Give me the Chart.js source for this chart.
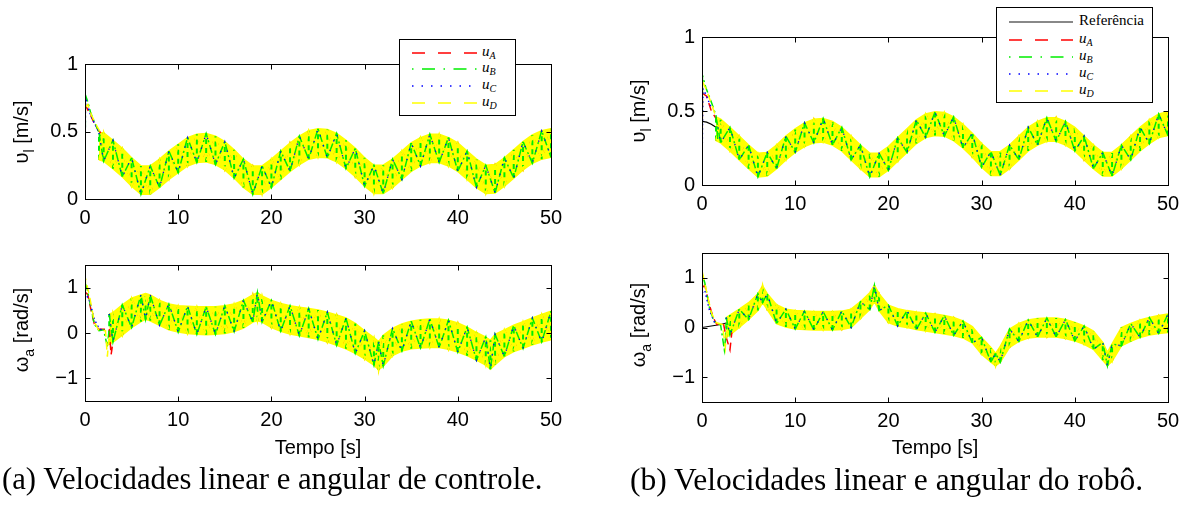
<!DOCTYPE html>
<html><head><meta charset="utf-8">
<script src="https://cdn.jsdelivr.net/npm/chart.js@4.4.1/dist/chart.umd.min.js"></script>
<style>
body{margin:0;width:1190px;height:508px;position:relative;background:#fff;overflow:hidden;font-family:"Liberation Sans",Arial,sans-serif;color:#000;}
canvas{position:absolute;left:0;top:0;}
.ylab{position:absolute;font-size:20px;line-height:20px;white-space:nowrap;transform:translate(-50%,-50%) rotate(-90deg);}
.ylab sub{font-size:14px;vertical-align:-6px;line-height:0;}
.xlab{position:absolute;font-size:20px;line-height:20px;white-space:nowrap;transform:translateX(-50%);}
.legend{position:absolute;border:1px solid #000;background:#fff;box-sizing:border-box;z-index:5;}
.legend svg{position:absolute;}
.legend .lt{position:absolute;font-family:"Liberation Serif",serif;font-size:15px;line-height:15px;white-space:nowrap;}
.legend .lt sub{font-size:10px;vertical-align:-3px;line-height:0;}
.cap{position:absolute;font-family:"Liberation Serif",serif;white-space:nowrap;line-height:1;}
</style></head>
<body>
<script>
// ---------------- data ----------------
const timeTicks = [0, 10, 20, 30, 40, 50];
const vTicks = [0, 0.5, 1];
const wTicks = [-1, 0, 1];

// time samples of the oscillating band (s)
const timeV = [1.5,2,3,4,5,6,7,8,9,10,11,12,13,14,15,16,17,18,19,20,21,22,23,24,25,26,27,28,29,30,31,32,33,34,35,36,37,38,39,40,41,42,43,44,45,46,47,48,49,50];
const timeW = [2.6,3,4,5,6,6.5,7,8,9,10,11,12,13,14,15,16,17,18,18.5,19,20,21,22,23,24,25,26,27,28,29,30,31,31.5,32,33,34,35,36,37,38,39,40,41,42,43,43.5,44,45,46,47,48,49,50];

// (a) control linear velocity: band upper / lower edges
const vUpperA = [0.49,0.49,0.435,0.375,0.305,0.245,0.245,0.295,0.355,0.405,0.455,0.48,0.485,0.465,0.425,0.365,0.295,0.245,0.245,0.295,0.355,0.415,0.465,0.505,0.52,0.515,0.485,0.435,0.375,0.305,0.25,0.25,0.295,0.355,0.415,0.455,0.48,0.48,0.455,0.415,0.355,0.295,0.25,0.255,0.305,0.365,0.425,0.475,0.505,0.52];
const vLowerA = [0.29,0.28,0.225,0.165,0.095,0.035,0.035,0.085,0.145,0.195,0.245,0.27,0.275,0.255,0.215,0.155,0.085,0.035,0.035,0.085,0.145,0.205,0.255,0.295,0.31,0.305,0.275,0.225,0.165,0.095,0.04,0.04,0.085,0.145,0.205,0.245,0.27,0.27,0.245,0.205,0.145,0.085,0.04,0.045,0.095,0.155,0.215,0.265,0.295,0.31];
// (a) control angular velocity
const wUpperA = [0.42,0.45,0.62,0.77,0.84,0.87,0.84,0.72,0.64,0.60,0.59,0.58,0.58,0.58,0.60,0.64,0.72,0.84,0.89,0.82,0.72,0.65,0.60,0.57,0.54,0.51,0.46,0.40,0.33,0.21,0.05,-0.10,-0.19,-0.05,0.10,0.20,0.26,0.29,0.31,0.31,0.28,0.22,0.13,0.01,-0.09,-0.16,-0.03,0.07,0.17,0.25,0.33,0.41,0.48];
const wLowerA = [-0.25,-0.20,-0.05,0.12,0.25,0.30,0.27,0.17,0.07,0.02,-0.01,-0.03,-0.04,-0.03,-0.01,0.03,0.11,0.24,0.27,0.24,0.12,0.04,-0.02,-0.06,-0.10,-0.14,-0.20,-0.27,-0.35,-0.45,-0.57,-0.71,-0.81,-0.73,-0.50,-0.40,-0.35,-0.33,-0.32,-0.32,-0.36,-0.42,-0.50,-0.60,-0.71,-0.80,-0.70,-0.52,-0.41,-0.34,-0.26,-0.20,-0.15];
// (b) robot linear velocity
const vUpperB = [0.46,0.445,0.39,0.33,0.27,0.215,0.22,0.27,0.33,0.38,0.42,0.445,0.45,0.43,0.39,0.33,0.27,0.215,0.215,0.26,0.32,0.38,0.44,0.48,0.495,0.49,0.46,0.41,0.35,0.28,0.225,0.225,0.27,0.33,0.39,0.43,0.455,0.455,0.43,0.39,0.33,0.27,0.22,0.22,0.27,0.33,0.39,0.44,0.48,0.495];
const vLowerB = [0.30,0.285,0.23,0.17,0.11,0.055,0.06,0.11,0.17,0.22,0.26,0.285,0.29,0.27,0.23,0.17,0.11,0.055,0.055,0.10,0.16,0.22,0.28,0.32,0.335,0.33,0.30,0.25,0.19,0.12,0.065,0.065,0.11,0.17,0.23,0.27,0.295,0.295,0.27,0.23,0.17,0.11,0.06,0.06,0.11,0.17,0.23,0.28,0.32,0.335];
// (b) robot angular velocity
const wUpperB = [0.20,0.25,0.37,0.50,0.68,0.84,0.68,0.46,0.37,0.34,0.33,0.32,0.32,0.32,0.33,0.37,0.52,0.70,0.85,0.68,0.45,0.38,0.34,0.31,0.29,0.27,0.24,0.20,0.13,0.02,-0.20,-0.40,-0.52,-0.38,-0.03,0.08,0.15,0.18,0.19,0.19,0.16,0.10,0.03,-0.07,-0.30,-0.50,-0.33,0.00,0.08,0.15,0.20,0.24,0.27];
const wLowerB = [-0.20,-0.15,0.00,0.16,0.34,0.50,0.36,0.08,0.01,-0.03,-0.04,-0.05,-0.05,-0.05,-0.04,0.00,0.18,0.36,0.52,0.34,0.10,0.03,0.00,-0.04,-0.07,-0.10,-0.13,-0.16,-0.21,-0.31,-0.54,-0.70,-0.77,-0.70,-0.40,-0.28,-0.21,-0.19,-0.19,-0.19,-0.22,-0.27,-0.34,-0.44,-0.66,-0.77,-0.68,-0.37,-0.28,-0.20,-0.15,-0.12,-0.10];

// initial transients, [time, value]
const vStartA_uA = [[0,0.02],[0.02,0.70],[0.3,0.66],[0.6,0.62],[1,0.56],[1.4,0.51],[1.7,0.49]];
const vStartA_uB = [[0,0.05],[0.05,0.77],[0.3,0.72],[0.6,0.64],[1,0.57],[1.4,0.51],[1.7,0.45]];
const vStartA_uC = [[0,0.1],[0.05,0.75],[0.5,0.64],[1,0.56],[1.5,0.50]];
const vStartA_uD = [[0,0.0],[0.03,0.68],[0.3,0.70],[0.7,0.62],[1.2,0.55],[1.6,0.50]];
const wStartA_uA = [[0,0.9],[0.3,0.85],[0.7,0.45],[1,0.2],[1.5,0.08],[2.2,0.08],[2.6,0.1],[2.8,-0.48],[3.0,-0.2]];
const wStartA_uB = [[0,1.1],[0.2,1.0],[0.6,0.6],[1,0.2],[1.5,0.05],[2.0,0.07],[2.4,-0.3],[2.6,0.1]];
const wStartA_uC = [[0,0.9],[0.5,0.7],[1,0.3],[1.5,0.1],[2,0.05]];
const wStartA_uD = [[0,0.2],[0.05,1.2],[0.5,0.8],[1,0.25],[1.5,0.05],[2.2,0.05],[2.4,-0.52],[2.6,0.0]];
const vRefB = [[0,0.43],[0.5,0.425],[1,0.41],[1.5,0.39],[2,0.37]];
const vStartB_uA = [[0,0.0],[0.05,0.62],[0.5,0.60],[1,0.50],[1.5,0.45]];
const vStartB_uB = [[0,0.05],[0.05,0.74],[0.4,0.66],[1,0.56],[1.5,0.47],[1.7,0.30]];
const vStartB_uC = [[0,0.1],[0.1,0.65],[0.5,0.60],[1,0.52]];
const vStartB_uD = [[0,0.0],[0.05,0.70],[0.5,0.64],[1,0.55],[1.5,0.46]];
const wRefB = [[0,0],[1,0.03],[2,0.06],[2.8,0.1]];
const wStartB_uA = [[0,0.8],[0.3,0.85],[0.8,0.45],[1.2,0.2],[1.6,0.06],[2.3,0.08],[2.6,-0.2],[3.0,-0.45],[3.2,-0.1]];
const wStartB_uB = [[0,0.5],[0.05,1.05],[0.3,0.9],[0.8,0.4],[1.3,0.12],[2,0.05],[2.4,-0.45],[2.7,0.1]];
const wStartB_uC = [[0,0.7],[0.3,0.75],[0.8,0.35],[1.4,0.08]];
const wStartB_uD = [[0,0.3],[0.05,1.1],[0.4,0.8],[1,0.3],[1.5,0.1],[2.2,0.06],[2.5,-0.4],[2.7,0.05]];

// ---------------- drawing ----------------
const COL = {A:'#ff0000', B:'#00ee00', C:'#0000ff', D:'#ffff00', R:'#000000'};
const FONT = {family:'"Liberation Sans", Arial, sans-serif', size:20};
const YW = 60, XH = 40;

const framePlugin = {
  id:'frame',
  afterDraw(chart){
    const {ctx, chartArea:a, scales} = chart;
    const L = Math.round(a.left)+0.5, R = Math.round(a.right)+0.5, T = Math.round(a.top)+0.5, B = Math.round(a.bottom)+0.5;
    ctx.save();
    ctx.strokeStyle = '#000'; ctx.lineWidth = 1;
    ctx.strokeRect(L, T, R-L, B-T);
    ctx.beginPath();
    scales.x.ticks.forEach(t=>{
      const p = Math.round(scales.x.getPixelForValue(t.value))+0.5;
      ctx.moveTo(p,B); ctx.lineTo(p,B-5); ctx.moveTo(p,T); ctx.lineTo(p,T+5);
    });
    scales.y.ticks.forEach(t=>{
      const p = Math.round(scales.y.getPixelForValue(t.value))+0.5;
      ctx.moveTo(L,p); ctx.lineTo(L+5,p); ctx.moveTo(R,p); ctx.lineTo(R-5,p);
    });
    ctx.stroke();
    ctx.restore();
  }
};

function pts(xs, ys){ return xs.map((x,i)=>({x, y:ys[i]})); }
function pairs(arr){ return arr.map(p=>({x:p[0], y:p[1]})); }

function makeChart(box, yTicks, yMin, yMax, t, up, lo, starts, ref){
  const cv = document.createElement('canvas');
  cv.width = 1190; cv.height = 508;
  document.body.appendChild(cv);
  const streaks = [];
  t.forEach((x,i)=>{ streaks.push({x, y:lo[i]}, {x, y:up[i]}, {x, y:null}); });
  const zigG = t.map((x,i)=>({x, y: i%2 ? lo[i] : up[i]}));
  const zigR = t.map((x,i)=>({x, y: i%2 ? up[i] : lo[i]}));
  const ds = [];
  const base = {pointRadius:0, tension:0, fill:false, spanGaps:false};
  ds.push({...base, data:pts(t,lo), borderColor:COL.D, borderWidth:1.5, order:30});
  ds.push({...base, data:pts(t,up), borderColor:COL.D, borderWidth:1.5, fill:'-1', backgroundColor:COL.D, order:29});
  ds.push({...base, data:zigR, borderColor:COL.A, borderWidth:1.3, borderDash:[3,11], order:9});
  ds.push({...base, data:streaks, borderColor:COL.B, borderWidth:2, borderDash:[5,4], order:8});
  ds.push({...base, data:zigR, borderColor:COL.D, borderWidth:1.8, borderDash:[9,5], borderDashOffset:4, order:7});
  ds.push({...base, data:zigG, borderColor:COL.B, borderWidth:1.5, borderDash:[8,3,2,3], order:6});
  ds.push({...base, data:zigG, borderColor:COL.C, borderWidth:1.3, borderDash:[1.3,9], order:5});
  if (ref) ds.push({...base, data:pairs(ref), borderColor:COL.R, borderWidth:1.2, order:40});
  const keys = ['A','B','C','D'];
  const dashes = [[8,5],[8,3,2,3],[1.5,3],[8,5]];
  starts.forEach((s,k)=>{
    ds.push({...base, data:pairs(s), borderColor:COL[keys[k]], borderWidth:1.5, borderDash:dashes[k], order:4-k});
  });
  return new Chart(cv, {
    type:'line',
    data:{datasets:ds},
    options:{
      responsive:false, animation:false, events:[],
      layout:{padding:{left:box.l-YW, top:box.t, right:1190-box.r, bottom:508-box.b-XH}},
      plugins:{legend:{display:false}, tooltip:{enabled:false}},
      scales:{
        x:{type:'linear', min:0, max:50,
           afterBuildTicks(s){ s.ticks = timeTicks.map(v=>({value:v})); },
           afterFit(s){ s.height = XH; },
           ticks:{font:FONT, color:'#000', padding:7, maxRotation:0, autoSkip:false},
           grid:{display:false, drawTicks:false}, border:{display:false}},
        y:{type:'linear', min:yMin, max:yMax,
           afterBuildTicks(s){ s.ticks = yTicks.map(v=>({value:v})); },
           afterFit(s){ s.width = YW; },
           ticks:{font:FONT, color:'#000', padding:7, callback:v=>String(v).replace('-','\u2212')},
           grid:{display:false, drawTicks:false}, border:{display:false}}
      }
    },
    plugins:[framePlugin]
  });
}

const boxAv = {l:85, r:551, t:64, b:199};
const boxAw = {l:85, r:551, t:265, b:401};
const boxBv = {l:702, r:1168, t:37, b:185};
const boxBw = {l:702, r:1168, t:253, b:402};

makeChart(boxAv, vTicks, 0, 1, timeV, vUpperA, vLowerA, [vStartA_uA,vStartA_uB,vStartA_uC,vStartA_uD], null);
makeChart(boxAw, wTicks, -1.5, 1.5, timeW, wUpperA, wLowerA, [wStartA_uA,wStartA_uB,wStartA_uC,wStartA_uD], null);
makeChart(boxBv, vTicks, 0, 1, timeV, vUpperB, vLowerB, [vStartB_uA,vStartB_uB,vStartB_uC,vStartB_uD], vRefB);
makeChart(boxBw, wTicks, -1.5, 1.5, timeW, wUpperB, wLowerB, [wStartB_uA,wStartB_uB,wStartB_uC,wStartB_uD], wRefB);

// ---------------- text ----------------
function addDiv(cls, html, style){
  const d = document.createElement('div'); d.className = cls; d.innerHTML = html;
  Object.assign(d.style, style); document.body.appendChild(d); return d;
}
addDiv('ylab', '\u03c5<sub>l</sub> [m/s]', {left:'21px', top:'132px'});
addDiv('ylab', '\u03c9<sub>a</sub> [rad/s]', {left:'21px', top:'330px'});
addDiv('ylab', '\u03c5<sub>l</sub> [m/s]', {left:'638px', top:'111px'});
addDiv('ylab', '\u03c9<sub>a</sub> [rad/s]', {left:'638px', top:'325px'});
addDiv('xlab', 'Tempo [s]', {left:'318px', top:'437px'});
addDiv('xlab', 'Tempo [s]', {left:'935px', top:'437px'});

// legends
const legendNames = ['A','B','C','D'];
const legendDash = {A:'13 13', B:'1.5 8.5 13 8.5', C:'1.5 8', D:'13 13', R:''};
function legend(box, rows, sx0, sx1, tx){
  const lg = addDiv('legend', '', {left:box.l+'px', top:box.t+'px', width:box.w+'px', height:box.h+'px'});
  rows.forEach(r=>{
    const svg = document.createElementNS('http://www.w3.org/2000/svg','svg');
    svg.setAttribute('width', sx1 - sx0 + 2); svg.setAttribute('height', 6);
    svg.style.left = (sx0-1)+'px'; svg.style.top = (r.y-3)+'px';
    const ln = document.createElementNS('http://www.w3.org/2000/svg','line');
    ln.setAttribute('x1',1); ln.setAttribute('x2', sx1-sx0+1); ln.setAttribute('y1',3); ln.setAttribute('y2',3);
    ln.setAttribute('stroke', r.k==='R' ? '#606060' : COL[r.k]);
    ln.setAttribute('stroke-width', r.k==='R' ? 1.6 : 1.3);
    if (legendDash[r.k]) ln.setAttribute('stroke-dasharray', legendDash[r.k]);
    svg.appendChild(ln); lg.appendChild(svg);
    const t = document.createElement('div'); t.className = 'lt';
    t.innerHTML = r.html; t.style.left = tx+'px'; t.style.top = (r.y-9)+'px';
    lg.appendChild(t);
  });
}
const uLabel = k => '<i>u</i><sub><i>'+k+'</i></sub>';
legend({l:399, t:39, w:117, h:77},
  legendNames.map((k,i)=>({k, html:uLabel(k), y:[12.5,29,46,63][i]})), 12, 77, 82);
legend({l:996, t:7, w:157, h:96},
  [{k:'R', html:'Refer\u00eancia', y:13.5}].concat(legendNames.map((k,i)=>({k, html:uLabel(k), y:[32,48.5,65.5,82.5][i]}))), 12, 76, 82);

// captions
function caption(prefix, rest, left, target){
  const c = addDiv('cap', '<span>'+prefix+'</span>'+rest, {left:left+'px', top:'0px', fontSize:'100px'});
  const w = c.firstChild.getBoundingClientRect().width;
  const f = 100*target/w;
  c.style.fontSize = f+'px';
  c.style.top = (490 - 0.84*f)+'px';
}
caption('(a) Velocidades linear e angular', ' de controle.', 2, 388);
caption('(b) Velocidades linear e angula', 'r do rob\u00f4.', 630, 390);
</script>
</body></html>
